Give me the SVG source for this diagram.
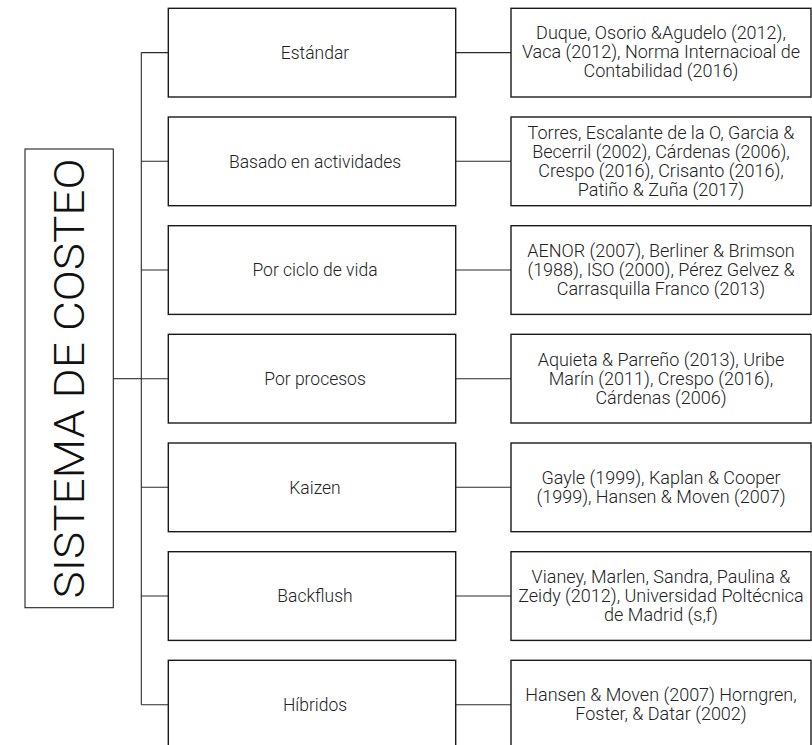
<svg xmlns="http://www.w3.org/2000/svg" width="812" height="745" viewBox="0 0 812 745">
<style>
.box{fill:#fff;stroke:#1a1a1a;stroke-width:1.4}
.tbox{fill:#fff;stroke:#222;stroke-width:1.1}
.con{fill:none;stroke:#2a2a2a;stroke-width:1.1}
.mid{font-family:Roboto,"Liberation Sans",sans-serif;font-weight:300;font-size:17.5px;fill:#222;text-anchor:middle}
.ref{font-family:Roboto,"Liberation Sans",sans-serif;font-weight:300;font-size:18px;fill:#222;text-anchor:middle}
.title{font-family:Roboto,"Liberation Sans",sans-serif;font-weight:300;font-size:42px;fill:#111;text-anchor:middle}
</style>
<rect width="812" height="745" fill="#fff"/>
<g id="connectors">
<path class="con" d="M141.3,52.6V704.7"/>
<path class="con" d="M113.3,378.7H141.3"/>
<path class="con" d="M141.3,52.6H168.3M141.3,161.3H168.3M141.3,270H168.3M141.3,378.7H168.3M141.3,487.3H168.3M141.3,596H168.3M141.3,704.7H168.3"/>
<path class="con" d="M455.7,52.6H511M455.7,161.3H511M455.7,270H511M455.7,378.7H511M455.7,487.3H511M455.7,596H511M455.7,704.7H511"/>
</g>
<g id="title">
<rect class="tbox" x="25" y="149" width="88.3" height="458.7"/>
<text class="title" transform="translate(84,378.5) rotate(-90)" textLength="440" lengthAdjust="spacingAndGlyphs">SISTEMA DE COSTEO</text>
</g>
<g id="n1">
<rect class="box" x="168.3" y="8.3" width="287.4" height="88.7"/>
<text class="mid" x="315" y="58.8">Estándar</text>
</g>
<g id="r1">
<rect class="box" x="511" y="8.3" width="300" height="88.7"/>
<text class="ref" x="661" y="39.4">Duque, Osorio &amp;Agudelo (2012),<tspan x="661" dy="19">Vaca (2012), Norma Internacioal de</tspan><tspan x="661" dy="19">Contabilidad (2016)</tspan></text>
</g>
<g id="n2">
<rect class="box" x="168.3" y="117" width="287.4" height="88.7"/>
<text class="mid" x="315" y="167.5">Basado en actividades</text>
</g>
<g id="r2">
<rect class="box" x="511" y="117" width="300" height="88.7"/>
<text class="ref" x="661" y="138.6">Torres, Escalante de la O, Garcia &amp;<tspan x="661" dy="19">Becerril (2002), Cárdenas (2006),</tspan><tspan x="661" dy="19">Crespo (2016), Crisanto (2016),</tspan><tspan x="661" dy="19">Patiño &amp; Zuña (2017)</tspan></text>
</g>
<g id="n3">
<rect class="box" x="168.3" y="225.7" width="287.4" height="88.7"/>
<text class="mid" x="315" y="276.2">Por ciclo de vida</text>
</g>
<g id="r3">
<rect class="box" x="511" y="225.7" width="300" height="88.7"/>
<text class="ref" x="661" y="256.8">AENOR (2007), Berliner &amp; Brimson<tspan x="661" dy="19">(1988), ISO (2000), Pérez Gelvez &amp;</tspan><tspan x="661" dy="19">Carrasquilla Franco (2013)</tspan></text>
</g>
<g id="n4">
<rect class="box" x="168.3" y="334.3" width="287.4" height="88.7"/>
<text class="mid" x="315" y="384.9">Por procesos</text>
</g>
<g id="r4">
<rect class="box" x="511" y="334.3" width="300" height="88.7"/>
<text class="ref" x="661" y="365.5">Aquieta &amp; Parreño (2013), Uribe<tspan x="661" dy="19">Marín (2011), Crespo (2016),</tspan><tspan x="661" dy="19">Cárdenas (2006)</tspan></text>
</g>
<g id="n5">
<rect class="box" x="168.3" y="443" width="287.4" height="88.7"/>
<text class="mid" x="315" y="493.5">Kaizen</text>
</g>
<g id="r5">
<rect class="box" x="511" y="443" width="300" height="88.7"/>
<text class="ref" x="661" y="483.6">Gayle (1999), Kaplan &amp; Cooper<tspan x="661" dy="19">(1999), Hansen &amp; Moven (2007)</tspan></text>
</g>
<g id="n6">
<rect class="box" x="168.3" y="551.7" width="287.4" height="88.7"/>
<text class="mid" x="315" y="602.2">Backflush</text>
</g>
<g id="r6">
<rect class="box" x="511" y="551.7" width="300" height="88.7"/>
<text class="ref" x="661" y="582.8">Vianey, Marlen, Sandra, Paulina &amp;<tspan x="661" dy="19">Zeidy (2012), Universidad Poltécnica</tspan><tspan x="661" dy="19">de Madrid (s,f)</tspan></text>
</g>
<g id="n7">
<rect class="box" x="168.3" y="660.3" width="287.4" height="88.7"/>
<text class="mid" x="315" y="710.9">Híbridos</text>
</g>
<g id="r7">
<rect class="box" x="511" y="660.3" width="300" height="88.7"/>
<text class="ref" x="661" y="701.2">Hansen &amp; Moven (2007) Horngren,<tspan x="661" dy="19">Foster, &amp; Datar (2002)</tspan></text>
</g>
</svg>
